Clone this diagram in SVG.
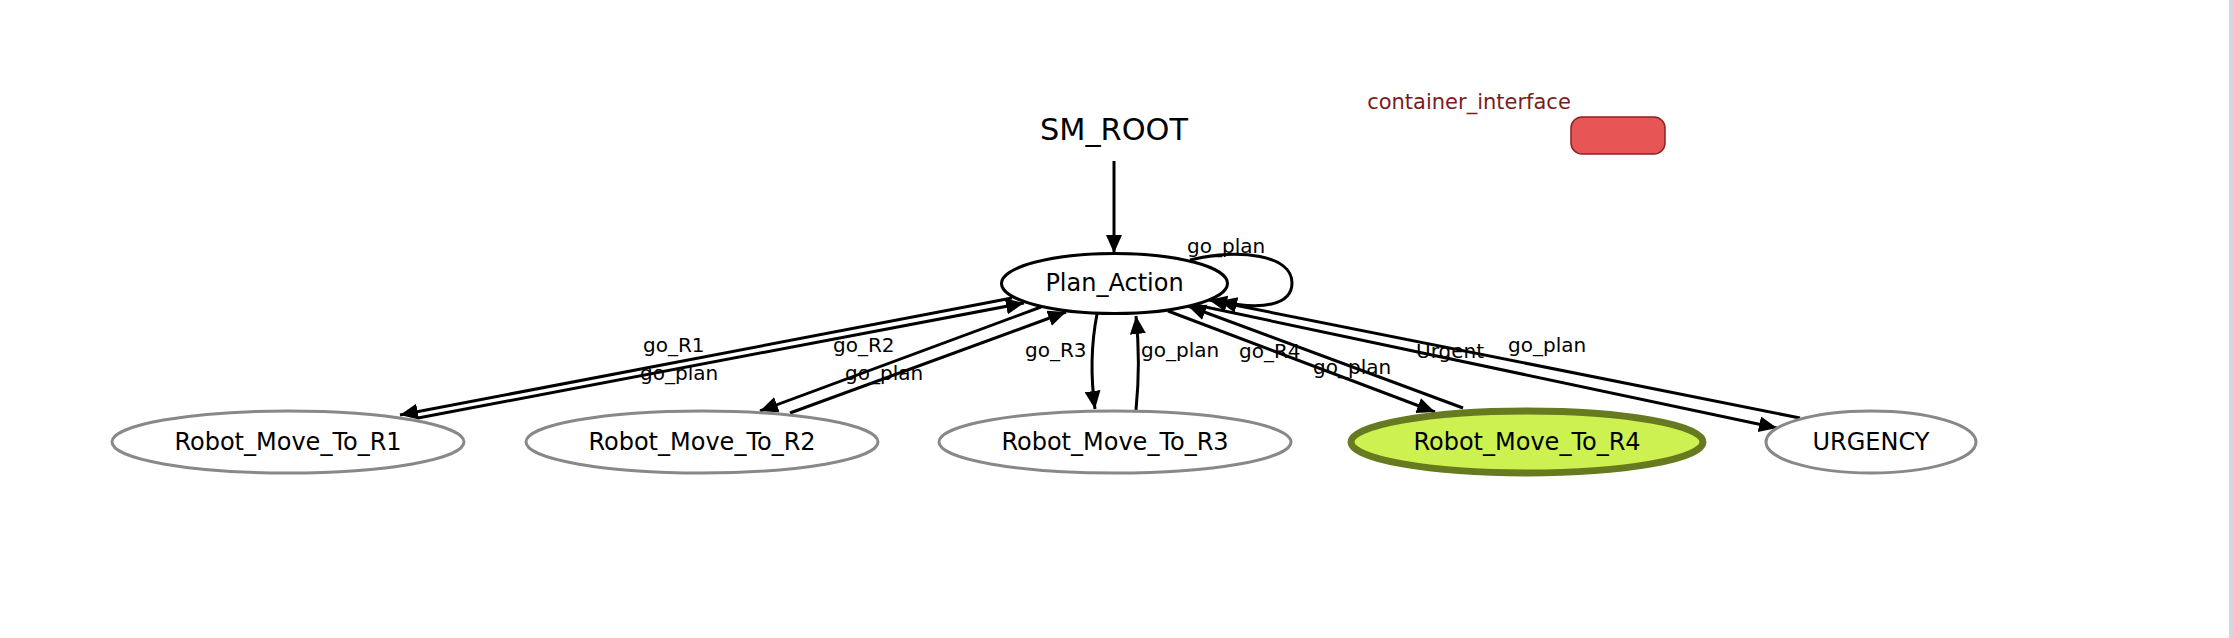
<svg xmlns="http://www.w3.org/2000/svg" width="2234" height="638" viewBox="0 0 2234 638">
<defs>
<marker id="arr" markerUnits="userSpaceOnUse" markerWidth="20" markerHeight="18" refX="18" refY="8" orient="auto">
<path d="M0,0 L18,8 L0,16 z" fill="#000"/>
</marker>
<style>
.lbl{font-family:"DejaVu Sans","Liberation Sans",sans-serif;font-size:20px;fill:#000}
.ntxt{font-family:"DejaVu Sans","Liberation Sans",sans-serif;font-size:24px;fill:#000;text-anchor:middle}
.edge{fill:none;stroke:#000;stroke-width:3;marker-end:url(#arr)}
.gray{fill:#fff;stroke:#888;stroke-width:3}
</style>
</defs>
<rect x="0" y="0" width="2234" height="638" fill="#fff"/>
<rect x="2229" y="0" width="5" height="638" fill="#d3d7dd"/>

<g id="legend">
<text x="1469" y="109" text-anchor="middle" font-family="DejaVu Sans, Liberation Sans, sans-serif" font-size="21" fill="#7b1c1c">container_interface</text>
<rect x="1571" y="117" width="94" height="37" rx="11" fill="#e85555" stroke="#8b2323" stroke-width="1.5"/>
</g>

<g id="SM_ROOT">
<text x="1114" y="140" text-anchor="middle" font-family="DejaVu Sans, Liberation Sans, sans-serif" font-size="30" textLength="148" lengthAdjust="spacingAndGlyphs">SM_ROOT</text>
</g>

<g id="connectors">
<path class="edge" d="M1114,161 L1114,253"/>
<path class="edge" d="M1190,260 C1240,248 1292,255 1292,283 C1292,305 1262,311 1219,301"/>
<path class="edge" d="M1012,298 L400,415"/>
<path class="edge" d="M418,418 L1024,303"/>
<path class="edge" d="M1041,307 L760,411"/>
<path class="edge" d="M790,413 L1066,312"/>
<path class="edge" d="M1097,314 C1091,345 1091,380 1095,409"/>
<path class="edge" d="M1136,410 C1139,380 1139,345 1136,316"/>
<path class="edge" d="M1168,311 L1435,412"/>
<path class="edge" d="M1463,408 L1188,306"/>
<path class="edge" d="M1196,305 L1777,428"/>
<path class="edge" d="M1800,418 L1209,300"/>
<text class="lbl" x="1187" y="253">go_plan</text>
<text class="lbl" x="643" y="352">go_R1</text>
<text class="lbl" x="640" y="380">go_plan</text>
<text class="lbl" x="833" y="352">go_R2</text>
<text class="lbl" x="845" y="380">go_plan</text>
<text class="lbl" x="1025" y="357">go_R3</text>
<text class="lbl" x="1141" y="357">go_plan</text>
<text class="lbl" x="1239" y="358">go_R4</text>
<text class="lbl" x="1313" y="374">go_plan</text>
<text class="lbl" x="1416" y="358">Urgent</text>
<text class="lbl" x="1508" y="352">go_plan</text>
</g>

<g id="Plan_Action">
<ellipse cx="1114.5" cy="283.5" rx="113" ry="30" fill="#fff" stroke="#000" stroke-width="3"/>
<text class="ntxt" x="1114.5" y="291">Plan_Action</text>
</g>
<g id="Robot_Move_To_R1">
<ellipse class="gray" cx="288" cy="442" rx="176" ry="31"/>
<text class="ntxt" x="288" y="450">Robot_Move_To_R1</text>
</g>
<g id="Robot_Move_To_R2">
<ellipse class="gray" cx="702" cy="442" rx="176" ry="31"/>
<text class="ntxt" x="702" y="450">Robot_Move_To_R2</text>
</g>
<g id="Robot_Move_To_R3">
<ellipse class="gray" cx="1115" cy="442" rx="176" ry="31"/>
<text class="ntxt" x="1115" y="450">Robot_Move_To_R3</text>
</g>
<g id="Robot_Move_To_R4">
<ellipse cx="1527" cy="442" rx="176" ry="31" fill="#ccf150" stroke="#677a1f" stroke-width="7"/>
<text class="ntxt" x="1527" y="450">Robot_Move_To_R4</text>
</g>
<g id="URGENCY">
<ellipse class="gray" cx="1871" cy="442" rx="105" ry="31"/>
<text class="ntxt" x="1871" y="450">URGENCY</text>
</g>
</svg>
